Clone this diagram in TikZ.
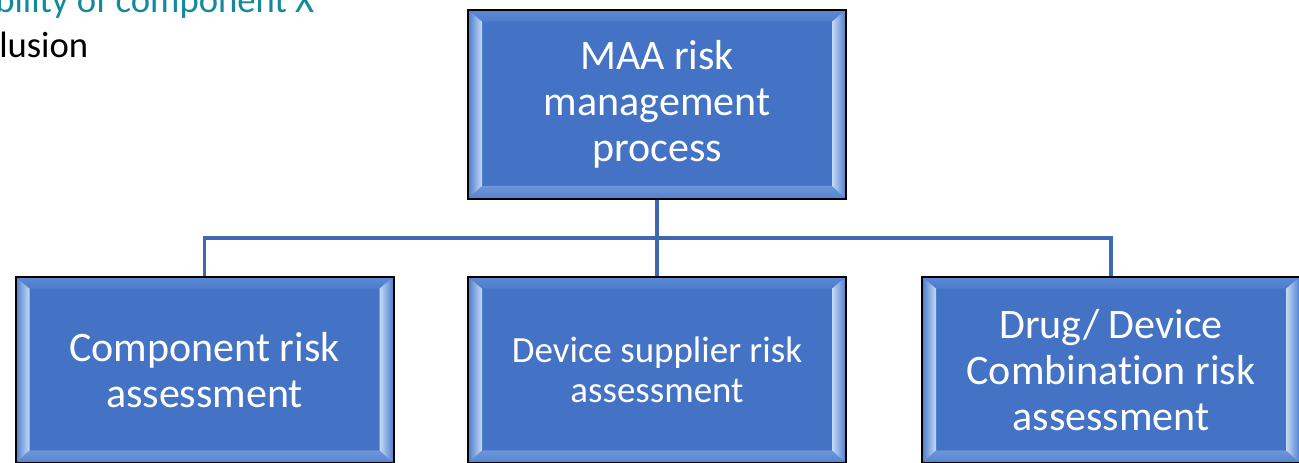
\documentclass[tikz,border=0pt]{standalone}
\usepackage{fontspec}
\setmainfont{Carlito}[Ligatures={NoCommon}]
\usetikzlibrary{calc}

\definecolor{boxblue}{HTML}{4472C4}
\definecolor{bevellight}{HTML}{C4DBF8}
\definecolor{bevelmid}{HTML}{4D7BCB}
\definecolor{bevtop}{HTML}{5D89D4}
\definecolor{bevtopin}{HTML}{4E7CCC}
\definecolor{bevbot}{HTML}{6C95DA}
\definecolor{bevbotout}{HTML}{5682CF}
\definecolor{linkblue}{HTML}{4068B2}
\definecolor{tealtext}{HTML}{138A9C}

\tikzset{
  bevelbox/.style={
    draw=black, line width=1.5pt, fill=boxblue, text=white,
    align=center, inner sep=0pt,
    minimum width=283.5pt, minimum height=140pt,
    path picture={
      \coordinate (bnw) at (path picture bounding box.north west);
      \coordinate (bne) at (path picture bounding box.north east);
      \coordinate (bsw) at (path picture bounding box.south west);
      \coordinate (bse) at (path picture bounding box.south east);
      % upper and lower bevel bands
      \fill[top color=bevtop, bottom color=bevtopin]
        (bnw) -- (bne) -- ($(bne)+(-14,12)$) -- ($(bnw)+(14,12)$) -- cycle;
      \fill[top color=bevbot, bottom color=bevbotout]
        (bsw) -- (bse) -- ($(bse)+(-14,-13)$) -- ($(bsw)+(14,-13)$) -- cycle;
      % side bevels, bright toward the face
      \fill[left color=bevelmid, right color=bevellight]
        (bnw) -- ($(bnw)+(14,12)$) -- ($(bsw)+(14,-13)$) -- (bsw) -- cycle;
      \fill[left color=bevellight, right color=bevelmid]
        (bne) -- ($(bne)+(-14,12)$) -- ($(bse)+(-14,-13)$) -- (bse) -- cycle;
    }},
  bigtext/.style={font=\fontsize{31.5pt}{34.5pt}\selectfont},
  midtext/.style={font=\fontsize{27.7pt}{30pt}\selectfont},
  conn/.style={draw=linkblue, line width=2.6pt},
  notetext/.style={anchor=base west, inner sep=0pt,
    font=\fontsize{27.5pt}{30pt}\selectfont}
}

\begin{document}
\begin{tikzpicture}[x=0.75pt,y=-0.75pt]
  \path[use as bounding box, clip] (0,0) rectangle (1299,463);

  % text fragments at the upper left
  \node[notetext, text=tealtext] (note1) at (-5,13) {bility of component X};
  \node[notetext, text=black] (note2) at (-1,58) {lusion};

  % boxes
  \node[bevelbox, bigtext, minimum height=141.9pt] (top) at (657,104.3)
    {MAA risk\\management\\process};
  \node[bevelbox, bigtext] (lbox) at (204.5,370) {Component risk\\assessment};
  \node[bevelbox, midtext] (mbox) at (657,370) {Device supplier risk\\assessment};
  \node[bevelbox, bigtext] (rbox) at (1111,370)
    {Drug/ Device\\Combination risk\\assessment};

  % tree connectors
  \coordinate (bar) at (657,238);
  \draw[conn] (top.south) -- (mbox.north);
  \draw[conn] (lbox.north) |- (bar) -| (rbox.north);
\end{tikzpicture}
\end{document}
